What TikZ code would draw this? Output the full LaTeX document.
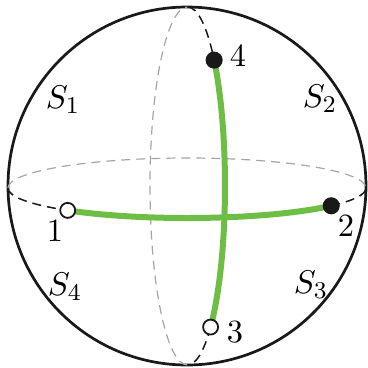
\documentclass[tikz,border=0pt]{standalone}
\usetikzlibrary{calc}
\definecolor{pathgreen}{RGB}{110,190,70}
\definecolor{backgray}{RGB}{165,165,165}
\begin{document}
\begin{tikzpicture}[x=0.3333pt,y=-0.3333pt,
  outline/.style={line width=0.9pt,draw=black!90},
  backline/.style={line width=0.4pt,draw=backgray,dash pattern=on 3pt off 2pt},
  frontline/.style={line width=0.5pt,draw=black!90,dash pattern=on 3pt off 2pt},
  greenpath/.style={line width=2pt,draw=pathgreen},
  openpt/.style={circle,draw=black!90,fill=white,line width=0.6pt,inner sep=0pt,minimum size=5pt},
  fullpt/.style={circle,fill=black!90,inner sep=0pt,minimum size=5.7pt},
  lbl/.style={inner sep=0pt,font=\fontsize{10.8}{12}\selectfont}]
\useasboundingbox (0,0) rectangle (368,368);
\coordinate (C) at (187,186);
\coordinate (E) at (187,188);
\coordinate (M) at (187.5,186);
% sphere outline
\draw[outline] (C) circle[radius=179];
% equator
\draw[backline] ($(E)+(180:179 and 30)$) arc[start angle=180,end angle=360,x radius=179,y radius=30];
\draw[frontline] ($(E)+(180:179 and 30)$) arc[start angle=180,end angle=131.8,x radius=179,y radius=30];
\draw[frontline] ($(E)+(36.3:179 and 30)$) arc[start angle=36.3,end angle=0,x radius=179,y radius=30];
% meridian
\draw[backline] ($(M)+(90:37.5 and 179)$) arc[start angle=90,end angle=270,x radius=37.5,y radius=179];
\draw[frontline] ($(M)+(-90:37.5 and 179)$) arc[start angle=-90,end angle=-44.7,x radius=37.5,y radius=179];
\draw[frontline] ($(M)+(52:37.5 and 179)$) arc[start angle=52,end angle=90,x radius=37.5,y radius=179];
% points
\coordinate (p1) at ($(E)+(131.8:179 and 30)$);
\coordinate (p2) at ($(E)+(36.3:179 and 30)$);
\coordinate (p4) at ($(M)+(-44.7:37.5 and 179)$);
\coordinate (p3) at ($(M)+(52:37.5 and 179)$);
% green paths
\draw[greenpath] (p1) arc[start angle=131.8,end angle=36.3,x radius=179,y radius=30];
\draw[greenpath] (p4) arc[start angle=-44.7,end angle=52,x radius=37.5,y radius=179];
% markers
\node[openpt] (n1) at (p1) {};
\node[fullpt] (n2) at (p2) {};
\node[openpt] (n3) at (p3) {};
\node[fullpt] (n4) at (p4) {};
% labels
\node[lbl] (l1) at (55,231) {1};
\node[lbl] (l2) at (346,226) {2};
\node[lbl] (l3) at (235,332) {3};
\node[lbl] (l4) at (238,56) {4};
\node[lbl] (s1) at (63,100) {$S_1$};
\node[lbl] (s2) at (320,99) {$S_2$};
\node[lbl] (s3) at (311,285) {$S_3$};
\node[lbl] (s4) at (65,287) {$S_4$};
\end{tikzpicture}
\end{document}
